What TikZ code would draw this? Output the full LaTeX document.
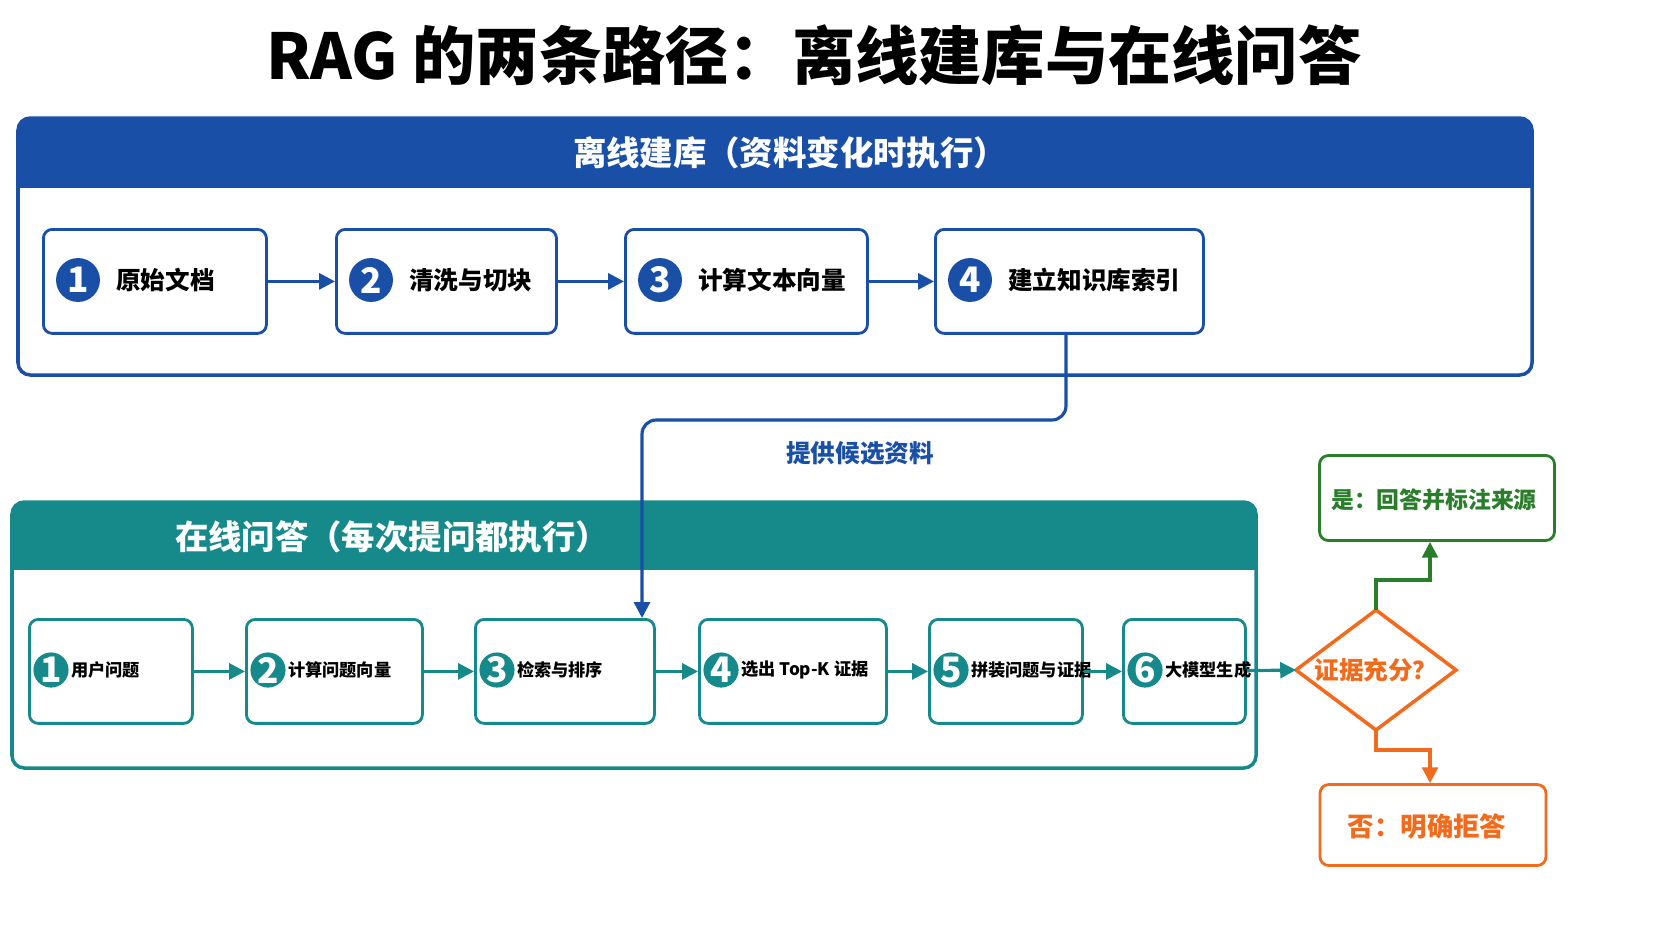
\documentclass[tikz,border=0pt]{standalone}
\usepackage{fontspec}
\setmainfont{Noto Sans CJK SC}
\usetikzlibrary{arrows.meta}
\definecolor{blu}{HTML}{1A4FA8}
\definecolor{tel}{HTML}{168A8A}
\definecolor{org}{HTML}{F26B1D}
\definecolor{grn}{HTML}{2A7D2A}
\begin{document}
\begin{tikzpicture}[x=0.02cm,y=-0.02cm,
 box/.style={draw=#1,line width=1.6pt,rounded corners=5pt,fill=white},
 num/.style={circle,fill=#1,text=white,font=\bfseries\fontsize{20}{20}\selectfont,minimum size=25pt,inner sep=0pt},
 lbl/.style={anchor=west,font=\bfseries\fontsize{14}{14}\selectfont,text=black},
 lbls/.style={anchor=west,font=\bfseries\fontsize{9.8}{9.8}\selectfont,text=black,inner sep=1pt},
 arr/.style={draw=#1,line width=1.8pt,-{Triangle[length=9pt,width=9pt]}}]
\useasboundingbox (0,0) rectangle (1672,941);
\fill[white] (0,0) rectangle (1672,941);
\node[font=\bfseries\fontsize{36}{36}\selectfont] (title) at (814,55) {RAG 的两条路径：离线建库与在线问答};
% top panel
\fill[blu,rounded corners=7pt] (18,118) rectangle (1532,200);
\draw[blu,line width=2pt,rounded corners=7pt,fill=white] (18,188) -- (18,375) -- (1532,375) -- (1532,188);
\fill[blu] (18,170) rectangle (1532,188);
\draw[blu,line width=2pt,rounded corners=7pt] (18,188) -- (18,118) -- (1532,118) -- (1532,188);
\node[text=white,font=\bfseries\fontsize{19}{19}\selectfont] (th) at (790,153) {离线建库（资料变化时执行）};
\foreach \n/\a/\b/\t in {1/42/265/原始文档,2/335/555/清洗与切块,3/624/866/计算文本向量,4/934/1202/建立知识库索引}{
 \node[box=blu,minimum width={(\b-\a)*0.02cm},minimum height=2.08cm,anchor=north west] (t\n) at (\a,228) {};
 \node[num=blu] (tc\n) at (\a+36,280) {\n};
 \node[lbl] (tl\n) at (\a+68,280) {\t};
}
\foreach \i/\j in {1/2,2/3,3/4}{\draw[arr=blu] (t\i) -- (t\j);}
% bottom panel
\fill[tel,rounded corners=7pt] (12,502) rectangle (1256,580);
\draw[tel,line width=2pt,rounded corners=7pt,fill=white] (12,570) -- (12,768) -- (1256,768) -- (1256,570);
\fill[tel] (12,555) rectangle (1256,570);
\draw[tel,line width=2pt,rounded corners=7pt] (12,570) -- (12,502) -- (1256,502) -- (1256,570);
\node[text=white,font=\bfseries\fontsize{19}{19}\selectfont] (bh) at (392,537) {在线问答（每次提问都执行）};
\foreach \n/\a/\b/\t in {1/28/191/用户问题,2/245/421/计算问题向量,3/474/653/检索与排序,4/698/885/选出 Top-K 证据,5/928/1081/拼装问题与证据,6/1122/1244/大模型生成}{
 \node[box=tel,minimum width={(\b-\a)*0.02cm},minimum height=2.08cm,anchor=north west] (b\n) at (\a,618) {};
 \node[num=tel,minimum size=20pt] (bc\n) at (\a+23,670) {\n};
 \node[lbls] (bl\n) at (\a+41,670) {\t};
}
\foreach \i/\j in {1/2,2/3,3/4,4/5,5/6}{\draw[arr=tel] (b\i) -- (b\j);}
% connector
\coordinate (c1) at (642,420);
\draw[arr=blu,rounded corners=8pt] (t4.south -| 1066,0) -- (1066,420) -- (c1) -- (b3.north -| 642,0);
\node[text=blu,font=\bfseries\fontsize{14}{14}\selectfont] (cl) at (860,453) {提供候选资料};
% decision
\draw[org,line width=2pt,fill=white] (1376,610) coordinate (dt) -- (1456,670) coordinate (dr) -- (1376,730) coordinate (db) -- (1296,670) coordinate (dl) -- cycle;
\node[text=org,font=\bfseries\fontsize{14}{14}\selectfont] (d) at (1376,670) {证据充分？};
\draw[arr=tel] (b6) -- (dl);
\node[box=grn,minimum width=4.7cm,minimum height=1.7cm] (yes) at (1437,498) {};
\node[text=grn,font=\bfseries\fontsize{13}{13}\selectfont] (yl) at (1434,500) {是：回答并标注来源};
\node[box=org,minimum width=4.52cm,minimum height=1.62cm] (no) at (1433,825) {};
\node[text=org,font=\bfseries\fontsize{15}{15}\selectfont] (nl) at (1427,826) {否：明确拒答};
\draw[arr=grn] (dt) -- (1376,580) -- (1430,580) -- (yes.south -| 1430,0);
\draw[arr=org] (db) -- (1376,750) -- (1430,750) -- (no.north -| 1430,0);
\end{tikzpicture}
\end{document}
